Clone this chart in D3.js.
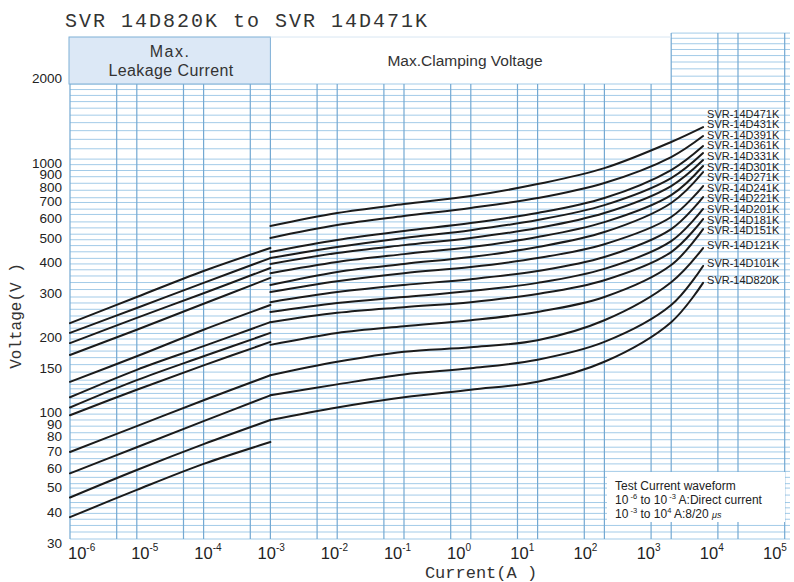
<!DOCTYPE html>
<html><head><meta charset="utf-8">
<script src="https://cdn.jsdelivr.net/npm/d3@7"></script>
<style>body{margin:0;background:#fff}</style>
</head><body>
<svg id="c" width="794" height="582"></svg>
<script>
// ---------- data ----------
const models = ["SVR-14D471K","SVR-14D431K","SVR-14D391K","SVR-14D361K","SVR-14D331K","SVR-14D301K","SVR-14D271K","SVR-14D241K","SVR-14D221K","SVR-14D201K","SVR-14D181K","SVR-14D151K","SVR-14D121K","SVR-14D101K","SVR-14D820K"];
const clampCurrents = [1e-3, 1e-2, 1e-1, 1, 10, 100, 1000, 3000];
const clampVoltages = [
  [539,608,660,711,794,920,1171,1343],
  [483,544,591,637,698,802,1019,1237],
  [424,474,515,554,608,698,904,1128],
  [401,444,483,519,570,654,839,1057],
  [380,420,452,483,529,608,780,991],
  [349,387,416,444,487,559,717,938],
  [313,353,380,405,444,510,667,887],
  [293,324,349,369,401,456,586,780],
  [267,293,313,330,356,405,524,704],
  [244,265,280,296,319,363,469,631],
  [222,242,255,267,288,327,424,575],
  [180,201,214,226,244,280,376,524],
  [136,154,169,176,188,226,321,440],
  [113,125,137,145,157,185,260,373],
  [90,101,111,119,128,154,222,319]
];
const leakCurrents = [1e-6, 1e-5, 1e-4, 1e-3];
const leakVoltages = [
  [220,280,356,440],
  [201,253,319,401],
  [183,231,290,366],
  [164,207,263,334],
  [128,162,207,260],
  [111,143,178,222],
  [101,130,162,201],
  [94,119,149,185],
  [67,85,108,136],
  [55,70,89,113],
  [44,56.7,72,90],
  [36.7,47.2,60,73.4]
];
const xTicks = [1e-6,1e-5,1e-4,1e-3,1e-2,1e-1,1,10,100,1000,1e4,1e5];
const xExponents = ["-6","-5","-4","-3","-2","-1","0","1","2","3","4","5"];
const yTicks = [2000,1000,900,800,700,600,500,400,300,200,150,100,90,80,70,60,50,40,30];
const gridCurrents = [1e-6,5e-6,1e-5,5e-5,1e-4,5e-4,1e-3,5e-3,1e-2,5e-2,1e-1,5e-1,1,5,10,50,100,500,1000,5000,1e4,5e4];
const gridVoltages = [30,32,34,36,38,40,42,45,48,50,53,56,60,63,67,70,75,80,85,90,95,100,105,110,115,120,125,130,140,150,160,170,180,190,200,210,220,235,250,265,280,300,320,340,360,380,400,425,450,475,500,530,560,600,630,670,700,750,800,850,900,950,1000,1100,1200,1300,1400,1500,1600,1700,1800,1900,2000];
const gridVoltagesTop = [2000,2150,2300,2450,2600,2750,2900,3050,3200];

// ---------- scales ----------
const x = d3.scaleLog().domain([1e-6,1e5]).range([70, 804.8]);
const y = d3.scaleLog().domain([30,2000]).range([539, 84]);
const xLab = d3.scaleLog().domain([1e-6,1e5]).range([68, 763]);
const xRight = 790, yBottom = y(30), yTop = y(2000), yTopExt = y(3200);

const svg = d3.select("#c");
const sans = "'Liberation Sans', Arial, sans-serif";
const mono = "'Liberation Mono', 'DejaVu Sans Mono', monospace";

// ---------- grid ----------
const g = svg.append("g");
g.selectAll(".h").data(gridVoltages).join("line")
  .attr("x1", x(1e-6)).attr("x2", xRight)
  .attr("y1", d => y(d)).attr("y2", d => y(d))
  .attr("stroke", "#a3cbe8").attr("stroke-width", 1);
g.selectAll(".ht").data(gridVoltagesTop).join("line")
  .attr("x1", x(1000)).attr("x2", xRight)
  .attr("y1", d => y(d)).attr("y2", d => y(d))
  .attr("stroke", "#a3cbe8").attr("stroke-width", 1);
g.selectAll(".v").data(gridCurrents).join("line")
  .attr("x1", d => x(d)).attr("x2", d => x(d))
  .attr("y1", d => d >= 1000 ? yTopExt : yTop).attr("y2", yBottom)
  .attr("stroke", "#74a9d2").attr("stroke-width", 1.2);

// ---------- header boxes ----------
svg.append("rect").attr("x", x(1e-6)-1).attr("y", 37).attr("width", x(1e-3)-x(1e-6)+1).attr("height", yTop-37)
  .attr("fill", "#dce8f6").attr("stroke", "#7fb0d6").attr("stroke-width", 1);
svg.append("line").attr("x1", x(1e-3)).attr("x2", x(1000)).attr("y1", 37).attr("y2", 37)
  .attr("stroke", "#d8e6f2").attr("stroke-width", 1);
svg.append("text").attr("x", 170).attr("y", 57).attr("text-anchor","middle")
  .attr("font-family", sans).attr("font-size", 16).attr("letter-spacing", 1.5).attr("fill","#333").text("Max.");
svg.append("text").attr("x", 171).attr("y", 76).attr("text-anchor","middle")
  .attr("font-family", sans).attr("font-size", 16).attr("letter-spacing", 0.4).attr("fill","#333").text("Leakage Current");
svg.append("text").attr("x", 465).attr("y", 66).attr("text-anchor","middle")
  .attr("font-family", sans).attr("font-size", 15.5).attr("fill","#333").text("Max.Clamping Voltage");

// ---------- title ----------
svg.append("text").attr("x", 65).attr("y", 27).attr("font-family", mono).attr("font-size", 20)
  .attr("letter-spacing", 2).attr("fill", "#333").text("SVR 14D820K to SVR 14D471K");

// ---------- y tick labels ----------
svg.append("g").selectAll("text").data(yTicks).join("text")
  .attr("x", 62).attr("y", d => d >= 2000 ? y(d) - 6 : y(d) + 4).attr("dy", "0.35em")
  .attr("text-anchor", "end").attr("font-family", sans).attr("font-size", 13.5).attr("fill", "#222")
  .text(d => d);

// ---------- x tick labels ----------
const xt = svg.append("g").selectAll("text").data(xTicks).join("text")
  .attr("x", d => xLab(d)).attr("y", 559).attr("font-family", sans).attr("font-size", 16.5).attr("fill", "#222");
xt.append("tspan").text("10");
xt.append("tspan").attr("dy", -8).attr("font-size", 10).text((d,i) => xExponents[i]);

// ---------- axis titles ----------
svg.append("text").attr("x", 481).attr("y", 578).attr("text-anchor","middle")
  .attr("font-family", mono).attr("font-size", 17).attr("fill","#333").text("Current(A )");
svg.append("text").attr("transform", "translate(21,316) rotate(-90)").attr("text-anchor","middle")
  .attr("font-family", mono).attr("font-size", 16).attr("fill","#333").text("Voltage(V )");

// ---------- curves ----------
const line = d3.line().x(d => x(d[0])).y(d => y(d[1])).curve(d3.curveCatmullRom.alpha(0.5));
const cg = svg.append("g").attr("fill","none").attr("stroke","#1b1b1b").attr("stroke-width", 2).attr("stroke-linecap","round");
cg.selectAll(".leak").data(leakVoltages).join("path")
  .attr("d", vs => line(vs.map((v,i) => [leakCurrents[i], v])));
cg.selectAll(".clamp").data(clampVoltages).join("path")
  .attr("d", vs => line(vs.map((v,i) => [clampCurrents[i], v])));

// ---------- curve labels (simple relaxation) ----------
const ends = clampVoltages.map(vs => y(vs[vs.length-1]));
const pos = ends.slice();
const minGap = 10.6;
for (let it = 0; it < 400; it++) {
  for (let i = 0; i < pos.length - 1; i++) {
    const gap = pos[i+1] - pos[i];
    if (gap < minGap) { const d = (minGap - gap) / 2; pos[i] -= d; pos[i+1] += d; }
  }
}
svg.append("g").selectAll("text").data(models).join("text")
  .attr("x", x(3000) + 4).attr("y", (d,i) => pos[i] - 3).attr("dy", "0.35em")
  .attr("font-family", sans).attr("font-size", 11).attr("fill", "#222").text(d => d);

// ---------- annotation ----------
svg.append("rect").attr("x", 607).attr("y", 472).attr("width", 178).attr("height", 50).attr("fill", "#fff");
const ann = svg.append("g").attr("font-family", sans).attr("font-size", 12).attr("fill", "#222");
ann.append("text").attr("x", 615).attr("y", 490).text("Test Current waveform");
const a2 = ann.append("text").attr("x", 615).attr("y", 504);
a2.append("tspan").text("10");
a2.append("tspan").attr("dy", -5).attr("font-size", 7.5).text(" -6");
a2.append("tspan").attr("dy", 5).text(" to 10");
a2.append("tspan").attr("dy", -5).attr("font-size", 7.5).text(" -3");
a2.append("tspan").attr("dy", 5).text(" A:Direct current");
const a3 = ann.append("text").attr("x", 615).attr("y", 518);
a3.append("tspan").text("10");
a3.append("tspan").attr("dy", -5).attr("font-size", 7.5).text(" -3");
a3.append("tspan").attr("dy", 5).text(" to 10");
a3.append("tspan").attr("dy", -5).attr("font-size", 7.5).text("4");
a3.append("tspan").attr("dy", 5).text(" A:8/20 ");
a3.append("tspan").attr("font-size", 9).attr("font-style", "italic").text("μs");
</script>
</body></html>
